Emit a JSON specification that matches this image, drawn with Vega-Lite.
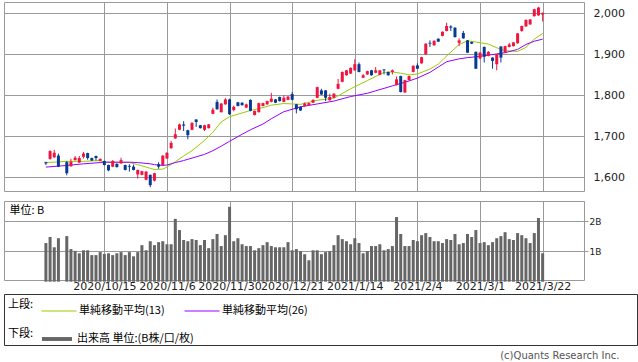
{
  "$schema": "https://vega.github.io/schema/vega-lite/v6.json",
  "padding": {"left": 3, "top": 1, "right": 0, "bottom": 0},
  "background": "white",
  "config": {
    "view": {"stroke": "#999999"},
    "axis": {"gridColor": "#999999", "gridOpacity": 1, "domain": false, "labelFont": "DejaVu Sans", "labelColor": "#222222", "labelFontSize": 11, "tickColor": "#999999"},
    "legend": {"padding": 0, "labelFont": "Noto Sans CJK JP", "labelFontSize": 11, "labelColor": "#000000", "titleFont": "Noto Sans CJK JP", "titleFontSize": 11, "titleFontWeight": "normal", "titleColor": "#000000"}
  },
  "title": {"text": "(c)Quants Research Inc.", "orient": "bottom", "anchor": "end", "font": "DejaVu Sans", "fontSize": 10, "fontWeight": "normal", "color": "#555555", "offset": 5, "dx": -18},
  "datasets": {
    "candles": [
      {"i":0,"o":1637,"h":1638,"l":1630,"c":1634,"v":1.28},
      {"i":1,"o":1645,"h":1666,"l":1643,"c":1664,"v":1.48},
      {"i":2,"o":1649,"h":1667,"l":1647,"c":1660,"v":1.14},
      {"i":3,"o":1653,"h":1658,"l":1625,"c":1626,"v":1.44},
      {"i":5,"o":1637,"h":1640,"l":1605,"c":1610,"v":1.51},
      {"i":6,"o":1627,"h":1645,"l":1626,"c":1638,"v":1.08},
      {"i":7,"o":1642,"h":1652,"l":1641,"c":1648,"v":1.02},
      {"i":8,"o":1636,"h":1652,"l":1635,"c":1647,"v":0.94},
      {"i":9,"o":1650,"h":1662,"l":1646,"c":1658,"v":1.04},
      {"i":10,"o":1659,"h":1660,"l":1643,"c":1647,"v":1.04},
      {"i":11,"o":1647,"h":1648,"l":1640,"c":1641,"v":0.88},
      {"i":12,"o":1652,"h":1653,"l":1641,"c":1647,"v":0.88},
      {"i":13,"o":1640,"h":1646,"l":1639,"c":1645,"v":0.98},
      {"i":14,"o":1640,"h":1641,"l":1629,"c":1630,"v":0.92},
      {"i":15,"o":1630,"h":1631,"l":1615,"c":1617,"v":0.94},
      {"i":16,"o":1626,"h":1642,"l":1625,"c":1640,"v":0.88},
      {"i":17,"o":1633,"h":1634,"l":1624,"c":1625,"v":0.94},
      {"i":18,"o":1634,"h":1648,"l":1633,"c":1642,"v":0.98},
      {"i":19,"o":1630,"h":1631,"l":1617,"c":1618,"v":0.88},
      {"i":20,"o":1628,"h":1632,"l":1614,"c":1626,"v":0.98},
      {"i":21,"o":1626,"h":1631,"l":1617,"c":1618,"v":0.84},
      {"i":22,"o":1607,"h":1619,"l":1597,"c":1618,"v":0.98},
      {"i":23,"o":1606,"h":1616,"l":1605,"c":1615,"v":1.21},
      {"i":24,"o":1594,"h":1615,"l":1593,"c":1614,"v":1.04},
      {"i":25,"o":1606,"h":1607,"l":1576,"c":1581,"v":1.34},
      {"i":26,"o":1592,"h":1611,"l":1590,"c":1610,"v":1.21},
      {"i":27,"o":1632,"h":1637,"l":1621,"c":1626,"v":1.31},
      {"i":28,"o":1630,"h":1654,"l":1629,"c":1653,"v":1.34},
      {"i":29,"o":1646,"h":1661,"l":1645,"c":1660,"v":1.24},
      {"i":30,"o":1671,"h":1689,"l":1670,"c":1684,"v":1.24},
      {"i":31,"o":1695,"h":1719,"l":1694,"c":1705,"v":2.08},
      {"i":32,"o":1716,"h":1731,"l":1715,"c":1729,"v":1.71},
      {"i":33,"o":1729,"h":1737,"l":1713,"c":1726,"v":1.38},
      {"i":34,"o":1715,"h":1716,"l":1693,"c":1703,"v":1.34},
      {"i":35,"o":1716,"h":1734,"l":1715,"c":1733,"v":1.41},
      {"i":36,"o":1741,"h":1742,"l":1723,"c":1735,"v":1.38},
      {"i":37,"o":1727,"h":1728,"l":1719,"c":1720,"v":1.21},
      {"i":38,"o":1716,"h":1728,"l":1713,"c":1727,"v":1.38},
      {"i":39,"o":1720,"h":1730,"l":1719,"c":1729,"v":1.11},
      {"i":40,"o":1755,"h":1770,"l":1754,"c":1765,"v":1.41},
      {"i":41,"o":1784,"h":1790,"l":1765,"c":1766,"v":1.58},
      {"i":42,"o":1759,"h":1781,"l":1758,"c":1780,"v":1.18},
      {"i":43,"o":1778,"h":1793,"l":1777,"c":1790,"v":1.54},
      {"i":44,"o":1790,"h":1792,"l":1752,"c":1754,"v":2.48},
      {"i":45,"o":1764,"h":1775,"l":1761,"c":1772,"v":1.34},
      {"i":46,"o":1783,"h":1784,"l":1773,"c":1774,"v":1.44},
      {"i":47,"o":1782,"h":1783,"l":1775,"c":1776,"v":1.24},
      {"i":48,"o":1770,"h":1780,"l":1769,"c":1778,"v":1.18},
      {"i":49,"o":1789,"h":1790,"l":1761,"c":1762,"v":1.18},
      {"i":50,"o":1752,"h":1763,"l":1751,"c":1762,"v":1.04},
      {"i":51,"o":1759,"h":1782,"l":1758,"c":1781,"v":1.11},
      {"i":52,"o":1774,"h":1782,"l":1773,"c":1781,"v":1.21},
      {"i":53,"o":1778,"h":1787,"l":1777,"c":1786,"v":1.31},
      {"i":54,"o":1784,"h":1806,"l":1783,"c":1792,"v":1.18},
      {"i":55,"o":1790,"h":1791,"l":1781,"c":1782,"v":1.14},
      {"i":56,"o":1796,"h":1797,"l":1785,"c":1786,"v":1.14},
      {"i":57,"o":1784,"h":1800,"l":1783,"c":1794,"v":1.14},
      {"i":58,"o":1789,"h":1798,"l":1788,"c":1797,"v":1.31},
      {"i":59,"o":1803,"h":1808,"l":1788,"c":1789,"v":1.04},
      {"i":60,"o":1778,"h":1779,"l":1756,"c":1766,"v":1.08},
      {"i":61,"o":1772,"h":1773,"l":1762,"c":1763,"v":1.01},
      {"i":62,"o":1774,"h":1783,"l":1772,"c":1780,"v":0.91},
      {"i":63,"o":1776,"h":1782,"l":1775,"c":1781,"v":0.71},
      {"i":64,"o":1782,"h":1790,"l":1781,"c":1789,"v":1.04},
      {"i":65,"o":1794,"h":1821,"l":1793,"c":1820,"v":1.04},
      {"i":66,"o":1812,"h":1816,"l":1801,"c":1802,"v":0.91},
      {"i":67,"o":1812,"h":1813,"l":1786,"c":1794,"v":0.98},
      {"i":68,"o":1788,"h":1804,"l":1787,"c":1796,"v":1.01},
      {"i":69,"o":1794,"h":1805,"l":1793,"c":1804,"v":1.21},
      {"i":70,"o":1816,"h":1840,"l":1815,"c":1828,"v":1.54},
      {"i":71,"o":1833,"h":1858,"l":1832,"c":1857,"v":1.41},
      {"i":72,"o":1849,"h":1862,"l":1848,"c":1861,"v":1.34},
      {"i":73,"o":1853,"h":1868,"l":1852,"c":1867,"v":1.24},
      {"i":74,"o":1861,"h":1888,"l":1860,"c":1876,"v":1.44},
      {"i":75,"o":1876,"h":1880,"l":1856,"c":1857,"v":1.28},
      {"i":76,"o":1843,"h":1852,"l":1842,"c":1849,"v":0.94},
      {"i":77,"o":1851,"h":1860,"l":1850,"c":1859,"v":1.01},
      {"i":78,"o":1861,"h":1862,"l":1848,"c":1849,"v":1.18},
      {"i":79,"o":1855,"h":1869,"l":1854,"c":1861,"v":1.18},
      {"i":80,"o":1850,"h":1862,"l":1849,"c":1861,"v":1.24},
      {"i":81,"o":1863,"h":1864,"l":1851,"c":1861,"v":1.04},
      {"i":82,"o":1857,"h":1858,"l":1848,"c":1849,"v":1.08},
      {"i":83,"o":1857,"h":1863,"l":1851,"c":1861,"v":1.18},
      {"i":84,"o":1825,"h":1846,"l":1824,"c":1839,"v":2.14},
      {"i":85,"o":1847,"h":1848,"l":1807,"c":1808,"v":1.58},
      {"i":86,"o":1807,"h":1838,"l":1806,"c":1837,"v":1.18},
      {"i":87,"o":1837,"h":1848,"l":1836,"c":1847,"v":1.18},
      {"i":88,"o":1857,"h":1873,"l":1856,"c":1872,"v":1.38},
      {"i":89,"o":1873,"h":1878,"l":1864,"c":1865,"v":1.34},
      {"i":90,"o":1878,"h":1894,"l":1877,"c":1893,"v":1.54},
      {"i":91,"o":1900,"h":1927,"l":1899,"c":1926,"v":1.61},
      {"i":92,"o":1928,"h":1934,"l":1918,"c":1926,"v":1.48},
      {"i":93,"o":1922,"h":1934,"l":1921,"c":1933,"v":1.34},
      {"i":94,"o":1938,"h":1939,"l":1930,"c":1931,"v":1.34},
      {"i":95,"o":1945,"h":1956,"l":1944,"c":1955,"v":1.28},
      {"i":96,"o":1957,"h":1977,"l":1956,"c":1969,"v":1.41},
      {"i":97,"o":1968,"h":1971,"l":1957,"c":1965,"v":1.38},
      {"i":98,"o":1965,"h":1966,"l":1941,"c":1942,"v":1.58},
      {"i":99,"o":1928,"h":1939,"l":1920,"c":1934,"v":1.24},
      {"i":100,"o":1952,"h":1957,"l":1938,"c":1939,"v":1.28},
      {"i":101,"o":1934,"h":1935,"l":1903,"c":1904,"v":1.58},
      {"i":102,"o":1930,"h":1931,"l":1925,"c":1926,"v":1.48},
      {"i":103,"o":1906,"h":1907,"l":1864,"c":1865,"v":1.71},
      {"i":104,"o":1890,"h":1906,"l":1888,"c":1904,"v":1.28},
      {"i":105,"o":1918,"h":1919,"l":1880,"c":1894,"v":1.31},
      {"i":106,"o":1896,"h":1908,"l":1895,"c":1906,"v":1.21},
      {"i":107,"o":1892,"h":1893,"l":1865,"c":1884,"v":1.31},
      {"i":108,"o":1876,"h":1901,"l":1861,"c":1900,"v":1.44},
      {"i":109,"o":1919,"h":1920,"l":1880,"c":1892,"v":1.51},
      {"i":110,"o":1904,"h":1921,"l":1903,"c":1920,"v":1.64},
      {"i":111,"o":1918,"h":1928,"l":1917,"c":1924,"v":1.41},
      {"i":112,"o":1920,"h":1930,"l":1919,"c":1929,"v":1.38},
      {"i":113,"o":1927,"h":1952,"l":1926,"c":1951,"v":1.61},
      {"i":114,"o":1957,"h":1970,"l":1955,"c":1969,"v":1.54},
      {"i":115,"o":1968,"h":1985,"l":1967,"c":1984,"v":1.44},
      {"i":116,"o":1973,"h":1986,"l":1972,"c":1985,"v":1.28},
      {"i":117,"o":1993,"h":2011,"l":1992,"c":2010,"v":1.61},
      {"i":118,"o":1995,"h":2016,"l":1994,"c":2014,"v":2.11},
      {"i":119,"o":1997,"h":2002,"l":1980,"c":2001,"v":0.94}
    ],
    "ma": [
      {"i":0,"ma13":1636,"ma26":1625},
      {"i":5,"ma13":1639,"ma26":1629},
      {"i":9,"ma13":1639,"ma26":1633},
      {"i":13,"ma13":1641,"ma26":1636},
      {"i":14,"ma13":1637,"ma26":1637},
      {"i":20,"ma13":1636,"ma26":1637},
      {"i":22,"ma13":1631,"ma26":1636},
      {"i":25,"ma13":1622,"ma26":1633},
      {"i":26,"ma13":1619,"ma26":1631},
      {"i":28,"ma13":1620,"ma26":1629},
      {"i":29,"ma13":1625,"ma26":1630},
      {"i":31,"ma13":1638,"ma26":1636},
      {"i":33,"ma13":1652,"ma26":1641},
      {"i":35,"ma13":1665,"ma26":1647},
      {"i":38,"ma13":1690,"ma26":1656},
      {"i":40,"ma13":1710,"ma26":1665},
      {"i":42,"ma13":1735,"ma26":1676},
      {"i":44,"ma13":1748,"ma26":1688},
      {"i":47,"ma13":1757,"ma26":1705},
      {"i":49,"ma13":1763,"ma26":1716},
      {"i":52,"ma13":1770,"ma26":1730},
      {"i":54,"ma13":1776,"ma26":1743},
      {"i":57,"ma13":1780,"ma26":1760},
      {"i":61,"ma13":1778,"ma26":1772},
      {"i":65,"ma13":1788,"ma26":1779},
      {"i":69,"ma13":1793,"ma26":1786},
      {"i":73,"ma13":1816,"ma26":1797},
      {"i":77,"ma13":1836,"ma26":1805},
      {"i":81,"ma13":1856,"ma26":1817},
      {"i":83,"ma13":1857,"ma26":1823},
      {"i":85,"ma13":1854,"ma26":1829},
      {"i":87,"ma13":1850,"ma26":1835},
      {"i":89,"ma13":1852,"ma26":1842},
      {"i":92,"ma13":1864,"ma26":1856},
      {"i":94,"ma13":1876,"ma26":1869},
      {"i":96,"ma13":1896,"ma26":1882},
      {"i":99,"ma13":1924,"ma26":1889},
      {"i":101,"ma13":1933,"ma26":1892},
      {"i":103,"ma13":1930,"ma26":1894},
      {"i":106,"ma13":1925,"ma26":1898},
      {"i":108,"ma13":1916,"ma26":1901},
      {"i":110,"ma13":1909,"ma26":1904},
      {"i":113,"ma13":1907,"ma26":1912},
      {"i":115,"ma13":1917,"ma26":1924},
      {"i":117,"ma13":1937,"ma26":1932},
      {"i":119,"ma13":1951,"ma26":1937}
    ]
  },
  "vconcat": [
    {
      "spacing": 8,
      "vconcat": [
        {
          "width": 580,
          "height": 189,
          "encoding": {
            "x": {"field": "i", "type": "quantitative", "title": null,
              "scale": {"domain": [-8.84, 127.71], "nice": false, "zero": false},
              "axis": {"values": [14, 29, 44, 59, 74, 89, 104, 119], "labels": false, "ticks": false, "domain": false, "grid": true, "minExtent": 0, "title": null}}
          },
          "layer": [
            {
              "data": {"name": "ma"},
              "mark": {"type": "line", "strokeWidth": 1},
              "encoding": {
                "y": {"field": "ma13", "type": "quantitative", "title": null,
                  "scale": {"domain": [1566.7, 2027.6], "nice": false, "zero": false},
                  "axis": {"orient": "right", "values": [1600, 1700, 1800, 1900, 2000], "format": ",.0f", "ticks": false, "labelPadding": 9, "grid": true, "domain": false, "title": null}},
                "stroke": {"datum": "単純移動平均(13)",
                  "scale": {"domain": ["単純移動平均(13)", "単純移動平均(26)"], "range": ["#99cc00", "#9900ff"]},
                  "legend": {"title": "上段:", "orient": "none", "legendX": 4, "legendY": 291, "direction": "horizontal", "titleOrient": "left", "titlePadding": 7, "symbolType": "stroke", "symbolSize": 1225, "symbolStrokeWidth": 1, "labelOffset": 2, "columnPadding": 17}}
              }
            },
            {
              "data": {"name": "ma"},
              "mark": {"type": "line", "strokeWidth": 1},
              "encoding": {
                "y": {"field": "ma26", "type": "quantitative", "title": null,
                  "scale": {"domain": [1566.7, 2027.6], "nice": false, "zero": false}},
                "stroke": {"datum": "単純移動平均(26)"}
              }
            },
            {
              "data": {"name": "candles"},
              "mark": {"type": "rule", "strokeWidth": 1},
              "encoding": {
                "y": {"field": "l", "type": "quantitative", "title": null,
                  "scale": {"domain": [1566.7, 2027.6], "nice": false, "zero": false}},
                "y2": {"field": "h"},
                "color": {"condition": {"test": "datum.c >= datum.o", "value": "#f01440"}, "value": "#073a93"}
              }
            },
            {
              "data": {"name": "candles"},
              "mark": {"type": "bar", "size": 3},
              "encoding": {
                "y": {"field": "o", "type": "quantitative", "title": null,
                  "scale": {"domain": [1566.7, 2027.6], "nice": false, "zero": false}},
                "y2": {"field": "c"},
                "color": {"condition": {"test": "datum.c >= datum.o", "value": "#f01440"}, "value": "#073a93"}
              }
            }
          ]
        },
        {
          "width": 580,
          "height": 79,
          "data": {"name": "candles"},
          "mark": {"type": "bar", "size": 3},
          "encoding": {
            "x": {"field": "i", "type": "quantitative", "title": null,
              "scale": {"domain": [-8.84, 127.71], "nice": false, "zero": false},
              "axis": {"values": [14, 29, 44, 59, 74, 89, 104, 119], "labelExpr": "datum.value == 14 ? '2020/10/15' : datum.value == 29 ? '2020/11/6' : datum.value == 44 ? '2020/11/30' : datum.value == 59 ? '2020/12/21' : datum.value == 74 ? '2021/1/14' : datum.value == 89 ? '2021/2/4' : datum.value == 104 ? '2021/3/1' : '2021/3/22'", "ticks": false, "domain": false, "grid": true, "labelPadding": 0, "labelDx": 3, "labelOverlap": false, "labelFlush": false, "labelBound": false, "title": null}},
            "y": {"field": "v", "type": "quantitative", "title": "単位: B",
              "scale": {"domain": [0.056, 2.672], "nice": false, "zero": false},
              "axis": {"orient": "right", "values": [1, 2], "labelExpr": "datum.value + 'B'", "ticks": true, "tickSize": 4, "labelPadding": 1, "labelFontSize": 9, "grid": true, "domain": false, "titleAngle": 0, "titleX": -575, "titleY": 9, "titleAlign": "left", "titleBaseline": "middle", "titleFont": "Noto Sans CJK JP", "titleFontSize": 11, "titleFontWeight": "normal", "titleColor": "#000000"}},
            "fill": {"datum": "出来高 単位:(B株/口/枚)",
              "scale": {"range": ["#666666"]},
              "legend": {"title": "下段:", "orient": "none", "legendX": 4, "legendY": 321, "direction": "horizontal", "titleOrient": "left", "titlePadding": 7, "symbolType": "M-1,-0.13H1V0.13H-1Z", "symbolSize": 900, "labelOffset": 4}}
          }
        }
      ]
    },
    {
      "width": 633,
      "height": 51,
      "data": {"values": [{"t": ""}]},
      "mark": {"type": "text"},
      "encoding": {"text": {"field": "t"}},
      "view": {"stroke": "#333333"}
    }
  ],
  "spacing": 1
}
